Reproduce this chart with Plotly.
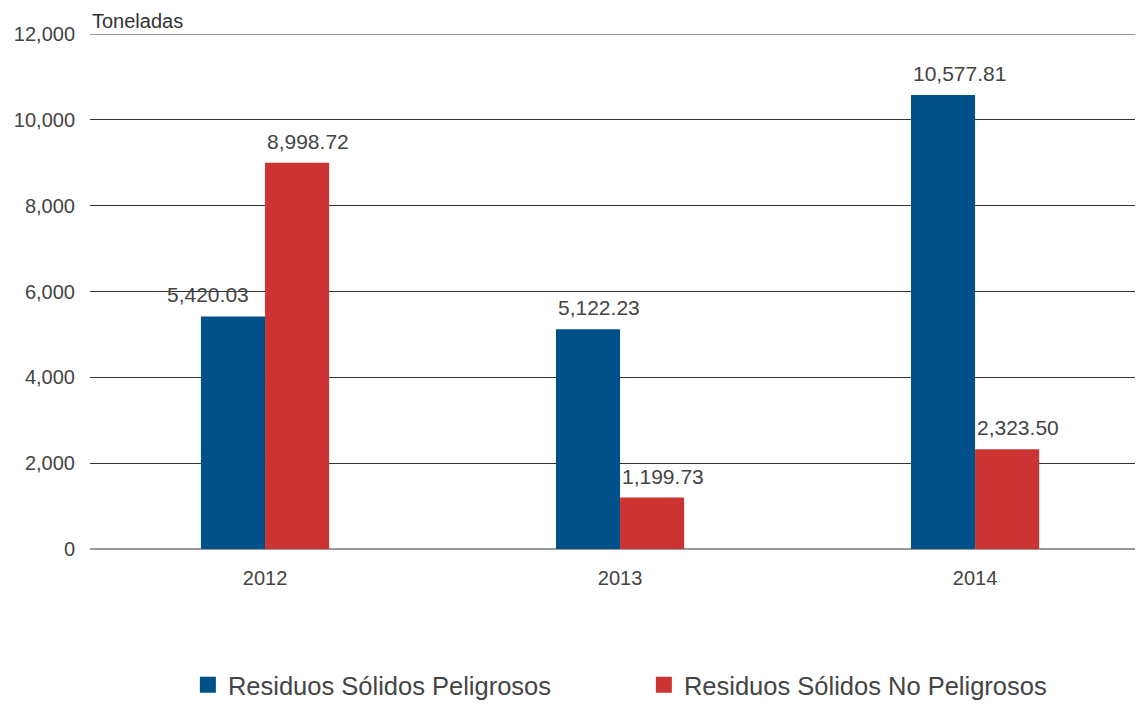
import plotly.graph_objects as go

# data
years = ["2012", "2013", "2014"]
peligrosos = [5420.03, 5122.23, 10577.81]
no_peligrosos = [8998.72, 1199.73, 2323.50]
y_ticks = [0, 2000, 4000, 6000, 8000, 10000, 12000]

BAR_PX = 64  # drawn width of one bar, used to place the value labels

series = [
    ("Residuos Sólidos Peligrosos", peligrosos, "#00508a", -BAR_PX),
    ("Residuos Sólidos No Peligrosos", no_peligrosos, "#cc3333", 0),
]

font_family = "Liberation Sans, Arial, sans-serif"
text_color = "#444444"

fig = go.Figure()
annotations = []

for k, (name, values, color, left) in enumerate(series):
    fig.add_trace(go.Bar(
        x=years, y=values,
        name=name,
        marker=dict(color=color, line=dict(width=0)),
        showlegend=False,
    ))
    # value labels start at the bar's left edge; x is the category index
    # so plotly does not read "2012" as a number
    other = series[1 - k][1]
    for i, v in enumerate(values):
        if k == 0 and other[i] > v:
            # taller red neighbour: keep the label to the left of it
            anchor, shift = "right", -14
        else:
            anchor, shift = "left", left
        annotations.append(dict(
            x=i, y=v, xref="x", yref="y",
            text=f"{v:,.2f}",
            xshift=shift, yshift=8,
            xanchor=anchor, yanchor="bottom",
            showarrow=False,
            font=dict(size=21, color=text_color),
        ))

# legend entries with a bigger square symbol, kept on hidden axes
for name, values, color, left in series:
    fig.add_trace(go.Scatter(
        x=[0], y=[0],
        xaxis="x2", yaxis="y2",
        name=name,
        mode="markers",
        marker=dict(symbol="square", size=16, color=color),
        hoverinfo="skip",
    ))

annotations.append(dict(
    text="Toneladas",
    xref="paper", yref="paper",
    x=0, y=1, xanchor="left", yanchor="bottom",
    showarrow=False,
    font=dict(size=20, color="#333333"),
))

fig.update_layout(
    width=1135, height=701,
    margin=dict(l=82, r=0, t=26, b=160),
    plot_bgcolor="white",
    paper_bgcolor="white",
    font=dict(family=font_family, color=text_color),
    barmode="group",
    bargap=0.639,
    bargroupgap=0,
    showlegend=True,
    legend=dict(
        orientation="h",
        x=0.526, xanchor="center",
        y=-0.31, yanchor="bottom",
        font=dict(size=25.5, color=text_color),
        itemwidth=30,
        entrywidth=411,
        itemsizing="trace",
    ),
    xaxis=dict(
        type="category",
        range=[-0.493, 2.473],
        showgrid=False,
        tickfont=dict(size=20, color=text_color),
        ticks="",
        ticklabelstandoff=15,
    ),
    yaxis=dict(
        range=[0, 12000],
        tickvals=y_ticks,
        tickformat=",",
        showgrid=True,
        gridcolor="#333333",
        gridwidth=1,
        zeroline=True,
        zerolinecolor="#999999",
        zerolinewidth=1.5,
        tickfont=dict(size=20, color=text_color),
        ticklabelstandoff=14,
    ),
    xaxis2=dict(visible=False, overlaying="x", range=[1, 2]),
    yaxis2=dict(visible=False, overlaying="y", range=[1, 2]),
    annotations=annotations,
    shapes=[dict(
        type="line", xref="paper", yref="y",
        x0=0, x1=1, y0=12000, y1=12000,
        line=dict(color="#333333", width=1),
    )],
)

fig.write_html("out.html")
